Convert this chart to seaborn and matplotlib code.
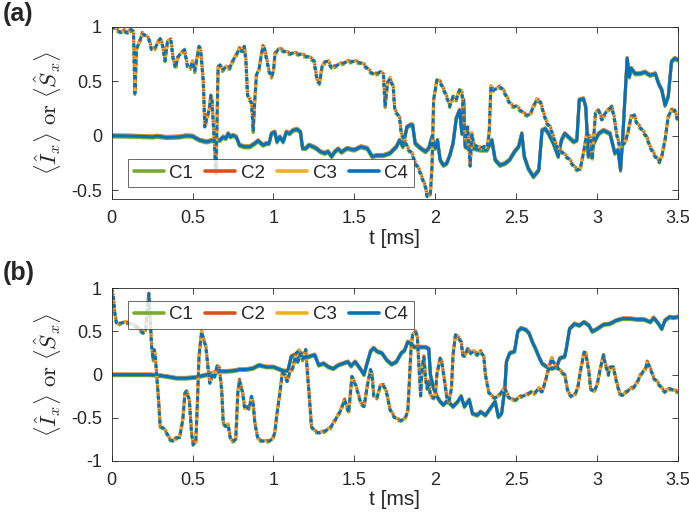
import matplotlib
matplotlib.use("Agg")
import matplotlib.pyplot as plt
import seaborn as sns

channels = ["C1", "C2", "C3", "C4"]
colors = ["#77AC30", "#D95319", "#EDB120", "#0072BD"]
# small visible spread of the channels around C4
chan_shift = [-0.012, 0.008, 0.005, 0.0]

# panel (a): <I_x> (solid)
ta_I = [0, .134, .257, .28, .34, .42, .46, .50, .525, .545, .586, .628, .67, .69, .706, .72, .735, .75, .77,
        .79, .82, .854, .885, .905, .936, .957, .973, .988, 1.008, 1.022, 1.04, 1.06, 1.08, 1.10, 1.12, 1.146,
        1.167, 1.18, 1.20, 1.22, 1.245, 1.265, 1.29, 1.317, 1.337, 1.36, 1.38, 1.40, 1.42, 1.455, 1.50, 1.54,
        1.58, 1.61, 1.64, 1.68, 1.72, 1.76, 1.78, 1.80, 1.825, 1.846, 1.86, 1.876, 1.91, 1.94, 1.96, 1.98, 2.00,
        2.014, 2.03, 2.05, 2.07, 2.09, 2.11, 2.13, 2.15, 2.165, 2.175, 2.185, 2.206, 2.237, 2.278, 2.32, 2.35,
        2.37, 2.40, 2.43, 2.46, 2.49, 2.515, 2.535, 2.55, 2.575, 2.607, 2.64, 2.66, 2.68, 2.70, 2.73, 2.76,
        2.78, 2.80, 2.823, 2.855, 2.875, 2.89, 2.916, 2.93, 2.946, 2.975, 3.01, 3.04, 3.08, 3.11, 3.13, 3.145,
        3.16, 3.18, 3.186, 3.20, 3.21, 3.235, 3.265, 3.296, 3.327, 3.36, 3.38, 3.40, 3.42, 3.44, 3.46, 3.48, 3.50]
ya_I = [0.0, -.003, -.01, -.003, -.015, -.01, 0.0, -.003, -.025, -.04, -.055, -.04, -.04, -.01, -.025, .02, -.01,
        .005, -.01, -.085, -.10, -.10, -.07, -.045, -.085, -.07, -.07, .02, .035, -.055, -.01, -.055, .035, .02,
        .05, .06, .035, -.115, -.115, -.085, -.10, -.115, -.145, -.16, -.145, -.19, -.145, -.12, -.15, -.115,
        -.13, -.10, -.115, -.19, -.18, -.18, -.16, -.10, -.04, -.10, .08, .10, .10, -.07, -.115, -.145, -.115,
        -.01, -.115, -.04, -.22, -.27, -.255, -.18, -.07, .16, .235, .02, .33, -.10, -.115, -.115, -.13, -.13,
        -.04, -.22, -.27, -.255, -.22, -.145, -.10, .02, -.19, -.30, -.375, -.315, .05, .065, .02, -.07, -.19,
        -.04, .02, -.01, -.055, -.04, .33, .34, .265, -.19, -.085, .02, .05, .02, -.16, -.13, -.315, .02, .54,
        .71, .54, .62, .57, .57, .585, .555, .57, .48, .42, .28, .36, .68, .71, .695]

# panel (a): <S_x> (dotted)
ta_S = [0, .03, .06, .08, .10, .12, .135, .144, .154, .17, .19, .21, .23, .247, .267, .288, .30, .315, .33, .345,
        .366, .38, .395, .41, .43, .45, .47, .485, .50, .514, .525, .54, .55, .566, .576, .59, .603, .613, .62,
        .632, .645, .658, .67, .685, .706, .73, .75, .77, .79, .81, .82, .83, .84, .85, .865, .875, .885, .895,
        .91, .925, .935, .945, .957, .973, .988, 1.0, 1.01, 1.03, 1.05, 1.07, 1.10, 1.14, 1.18, 1.21, 1.23, 1.25,
        1.27, 1.285, 1.30, 1.32, 1.34, 1.36, 1.39, 1.42, 1.46, 1.50, 1.527, 1.56, 1.59, 1.62, 1.64, 1.66, 1.68,
        1.69, 1.706, 1.72, 1.74, 1.75, 1.77, 1.78, 1.79, 1.81, 1.835, 1.856, 1.876, 1.897, 1.917, 1.94, 1.95,
        1.97, 1.98, 1.99, 2.01, 2.03, 2.05, 2.07, 2.09, 2.11, 2.13, 2.15, 2.165, 2.175, 2.185, 2.20, 2.216, 2.226,
        2.237, 2.257, 2.278, 2.30, 2.32, 2.333, 2.344, 2.36, 2.38, 2.40, 2.42, 2.44, 2.46, 2.48, 2.50, 2.525,
        2.545, 2.566, 2.586, 2.607, 2.628, 2.65, 2.67, 2.69, 2.71, 2.73, 2.75, 2.77, 2.79, 2.81, 2.83, 2.855,
        2.875, 2.895, 2.916, 2.936, 2.957, 2.97, 2.99, 3.01, 3.03, 3.05, 3.07, 3.09, 3.105, 3.12, 3.14, 3.17,
        3.19, 3.21, 3.23, 3.245, 3.265, 3.286, 3.306, 3.327, 3.36, 3.385, 3.40, 3.42, 3.44, 3.46, 3.48, 3.50]
ya_S = [1.0, .975, .945, .965, .94, .975, .955, .39, .80, .85, .94, .915, .89, .79, .80, .86, .89, .83, .69, .86,
        .88, .71, .62, .725, .755, .79, .63, .62, .68, .59, .69, .82, .79, .51, .08, .17, .235, .37, .33, .02,
        -.35, .63, .65, .60, .63, .62, .69, .74, .80, .77, .82, .69, .37, .34, .30, .04, .33, .56, .60, .74, .82,
        .80, .71, .59, .54, .59, .755, .79, .79, .77, .755, .755, .74, .725, .71, .69, .51, .48, .63, .68, .68,
        .62, .645, .66, .68, .68, .675, .65, .60, .56, .57, .585, .56, .27, .49, .525, .45, .235, .19, .16, .02,
        -.04, -.13, -.16, -.25, -.30, -.38, -.47, -.56, -.53, -.28, .33, .51, .495, .43, .36, .27, .36, .33, .42,
        .40, .205, -.04, .08, -.28, .02, -.07, -.10, -.115, -.10, -.115, .02, .45, .42, .43, .45, .42, .36, .30,
        .27, .27, .235, .205, .19, .19, .27, .33, .31, .205, .115, .08, -.01, -.10, -.13, -.16, -.19, -.22, -.28,
        -.31, -.31, -.16, .02, -.01, -.22, .205, .235, .145, .205, .235, .27, .175, .02, -.10, -.07, .02, .175,
        .19, .115, .08, .035, -.01, -.10, -.19, -.24, -.19, -.04, .175, .235, .235, .13]

# panel (b): <I_x> (solid)
tb_I = [0, .24, .30, .34, .40, .46, .52, .59, .63, .67, .71, .75, .79, .83, .875, .91, .957, 1.0, 1.04, 1.07,
        1.09, 1.11, 1.13, 1.15, 1.17, 1.20, 1.22, 1.255, 1.28, 1.31, 1.34, 1.37, 1.40, 1.43, 1.46, 1.48, 1.505,
        1.54, 1.56, 1.574, 1.60, 1.62, 1.64, 1.67, 1.70, 1.73, 1.76, 1.79, 1.81, 1.83, 1.85, 1.87, 1.90, 1.94,
        1.96, 1.97, 1.99, 2.01, 2.03, 2.05, 2.07, 2.09, 2.11, 2.14, 2.16, 2.18, 2.21, 2.23, 2.26, 2.28, 2.31,
        2.34, 2.37, 2.39, 2.41, 2.43, 2.44, 2.46, 2.49, 2.51, 2.53, 2.56, 2.58, 2.60, 2.62, 2.64, 2.66, 2.69,
        2.72, 2.75, 2.77, 2.80, 2.81, 2.83, 2.86, 2.89, 2.92, 2.95, 2.97, 3.00, 3.04, 3.08, 3.12, 3.16, 3.20,
        3.25, 3.29, 3.33, 3.35, 3.38, 3.40, 3.42, 3.45, 3.47, 3.50]
yb_I = [0.0, 0.0, -.01, -.02, -.04, -.04, -.03, 0.0, .02, .04, .04, .045, .06, .06, .075, .11, .09, .09, .06, .04,
        .05, .21, .23, .15, .25, .19, .21, .23, .11, .13, .09, .07, .11, .13, .15, .10, .15, .06, 0.0, .10, .27,
        .31, .27, .25, .17, .12, .15, .25, .28, .38, .36, .32, .32, .32, .30, 0.0, -.16, -.25, -.31, -.35, -.31,
        -.33, -.37, -.31, -.25, -.37, -.29, -.45, -.47, -.43, -.47, -.39, -.31, -.49, -.45, -.16, .15, .25, .27,
        .50, .54, .52, .48, .38, .30, .21, .13, .09, .07, .09, .19, .21, .30, .53, .59, .57, .61, .57, .50, .53,
        .58, .59, .63, .65, .65, .64, .64, .61, .66, .59, .53, .63, .67, .66, .67]

# panel (b): <S_x> (dotted)
tb_S = [0, .01, .02, .03, .04, .06, .08, .10, .13, .16, .195, .21, .23, .247, .257, .263, .27, .29, .30, .32, .34,
        .36, .38, .40, .42, .44, .453, .463, .48, .494, .504, .52, .53, .54, .556, .57, .582, .597, .607, .628,
        .638, .652, .665, .68, .69, .706, .72, .735, .75, .767, .78, .79, .81, .823, .837, .85, .864, .875, .885,
        .905, .936, .967, .994, 1.008, 1.02, 1.04, 1.055, 1.07, 1.085, 1.10, 1.12, 1.14, 1.16, 1.17, 1.18, 1.20,
        1.21, 1.22, 1.235, 1.255, 1.286, 1.317, 1.35, 1.37, 1.39, 1.414, 1.44, 1.465, 1.485, 1.51, 1.54, 1.56,
        1.58, 1.60, 1.61, 1.62, 1.64, 1.66, 1.68, 1.70, 1.72, 1.75, 1.77, 1.79, 1.81, 1.83, 1.84, 1.85, 1.86,
        1.88, 1.89, 1.90, 1.91, 1.92, 1.93, 1.94, 1.95, 1.96, 1.97, 1.99, 2.00, 2.01, 2.03, 2.04, 2.055, 2.07,
        2.085, 2.10, 2.11, 2.125, 2.14, 2.16, 2.17, 2.18, 2.20, 2.22, 2.24, 2.26, 2.28, 2.30, 2.31, 2.33, 2.35,
        2.37, 2.39, 2.41, 2.43, 2.45, 2.47, 2.50, 2.53, 2.56, 2.59, 2.61, 2.64, 2.66, 2.68, 2.70, 2.72, 2.74,
        2.76, 2.78, 2.80, 2.82, 2.84, 2.86, 2.88, 2.90, 2.92, 2.93, 2.95, 2.96, 2.98, 3.00, 3.02, 3.04, 3.05,
        3.07, 3.08, 3.10, 3.12, 3.14, 3.16, 3.18, 3.21, 3.23, 3.25, 3.27, 3.30, 3.31, 3.33, 3.35, 3.37, 3.40,
        3.42, 3.45, 3.47, 3.50]
yb_S = [1.0, .905, .71, .60, .58, .60, .605, .60, .58, .55, .48, .52, .94, .33, .17, .29, .21, -.29, -.60, -.62,
        -.675, -.75, -.77, -.73, -.73, -.52, -.21, -.19, -.29, -.675, -.81, -.79, -.33, .21, .50, .40, .33, .06,
        -.10, .02, -.02, .10, .08, -.17, -.56, -.60, -.58, -.75, -.77, -.75, -.21, -.06, -.21, -.40, -.37, -.40,
        -.25, -.33, -.56, -.75, -.77, -.77, -.75, -.675, -.48, -.21, .02, 0.0, -.08, .02, .08, .25, .28, .19, .17,
        .29, .02, -.21, -.60, -.655, -.675, -.655, -.62, -.56, -.50, -.42, -.29, -.44, -.02, -.13, -.33, -.37,
        -.13, .06, 0.0, -.25, -.27, -.13, -.12, -.21, -.40, -.50, -.52, -.53, -.52, -.43, -.08, .30, .46, .50,
        .42, .07, -.24, .11, .21, -.04, -.16, -.08, -.24, -.27, -.25, 0.0, .19, .15, -.04, -.25, -.31, -.16, .23,
        .46, .44, .38, .23, .21, .30, .25, .27, .23, .27, .21, 0.0, -.20, -.25, -.27, -.25, -.20, -.16, -.25,
        -.29, -.29, -.25, -.24, -.20, -.22, -.16, -.20, -.08, .07, .19, .11, .07, .03, 0.0, -.20, -.25, -.24,
        -.16, .07, .26, .25, .03, -.16, -.20, -.12, .07, .23, .13, 0.0, .09, .09, -.08, -.22, -.24, -.20, -.16,
        -.14, -.08, 0.0, .07, .15, .07, -.04, -.08, -.16, -.20, -.16, -.18, -.20]

xticks = [0, 0.5, 1, 1.5, 2, 2.5, 3, 3.5]
xticklabels = ["0", "0.5", "1", "1.5", "2", "2.5", "3", "3.5"]

sns.set_theme(style="ticks")
plt.rcParams["font.family"] = ["Liberation Sans", "DejaVu Sans"]
plt.rcParams["mathtext.fontset"] = "cm"

fig = plt.figure(figsize=(6.89, 5.21), dpi=100)
ax_a = fig.add_axes([0.162, 0.6175, 0.822, 0.3313])
ax_b = fig.add_axes([0.162, 0.1152, 0.822, 0.3314])

dot_offsets = [0.6, 1.3, 1.95, 0.0]

panels = [
    (ax_a, ta_I, ya_I, ta_S, ya_S, (-0.583, 1.0), [-0.5, 0, 0.5, 1], ["-0.5", "0", "0.5", "1"],
     (0.029, 0.07)),
    (ax_b, tb_I, yb_I, tb_S, yb_S, (-1.0, 1.0), [-1, -0.5, 0, 0.5, 1], ["-1", "-0.5", "0", "0.5", "1"],
     (0.029, 0.764)),
]

for ax, tI, yI, tS, yS, ylim, yticks, yticklabels, leg_pos in panels:
    for i, ch in enumerate(channels):
        sns.lineplot(x=tI, y=[v + chan_shift[i] for v in yI], ax=ax, color=colors[i], linewidth=2.2,
                     sort=False, estimator=None, label=ch)
    for i, ch in enumerate(channels):
        sns.lineplot(x=tS, y=[v + chan_shift[i] for v in yS], ax=ax, color=colors[i], linewidth=2.2,
                     sort=False, estimator=None, linestyle=(dot_offsets[i], (1.3, 1.3)))
    ax.set_xlim(0, 3.5)
    ax.set_ylim(*ylim)
    ax.set_xticks(xticks)
    ax.set_xticklabels(xticklabels)
    ax.set_yticks(yticks)
    ax.set_yticklabels(yticklabels)
    ax.tick_params(direction="in", top=True, right=True, length=4, width=0.6, colors="#262626",
                   labelsize=13)
    ax.tick_params(axis="x", pad=8)
    ax.tick_params(axis="y", pad=7)
    for sp in ax.spines.values():
        sp.set_color("#262626")
        sp.set_linewidth(0.6)
    ax.set_xlabel("t [ms]", fontsize=15, color="#262626", labelpad=1)
    ax.set_ylabel(r"$\langle\hat{I}_x\rangle\ \mathrm{or}\ \langle\hat{S}_x\rangle$", fontsize=16.5,
                  color="#262626", labelpad=5)
    handles, labels = ax.get_legend_handles_labels()
    leg = ax.legend(handles[:4], labels[:4], ncol=4, loc="lower left", bbox_to_anchor=leg_pos,
                    borderaxespad=0, fontsize=13.5, frameon=True, fancybox=False, handlelength=1.6,
                    handletextpad=0.3, columnspacing=0.65, borderpad=0.3)
    leg.get_frame().set_edgecolor("#262626")
    leg.get_frame().set_linewidth(0.6)
    for line in leg.get_lines():
        line.set_linewidth(2.6)

fig.text(0.004, 0.997, "(a)", fontsize=18, fontweight="bold", va="top", ha="left")
fig.text(0.004, 0.499, "(b)", fontsize=18, fontweight="bold", va="top", ha="left")

fig.savefig("out.png", dpi=100)
